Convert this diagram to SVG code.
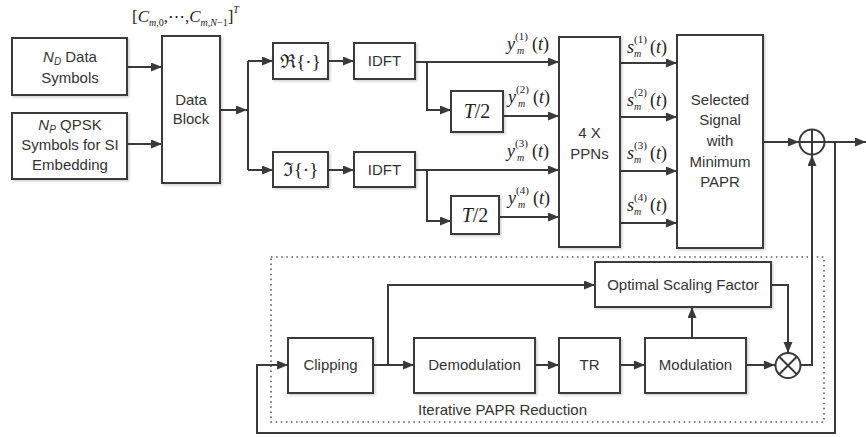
<svg xmlns="http://www.w3.org/2000/svg" width="866" height="437" viewBox="0 0 866 437">
<defs>
<marker id="ah" markerWidth="12" markerHeight="10" refX="11" refY="4.5" orient="auto" markerUnits="userSpaceOnUse">
<path d="M0,0 L11,4.5 L0,9 z" fill="#3a3a3a"/>
</marker>
<filter id="sh" x="-10%" y="-10%" width="130%" height="130%">
<feDropShadow dx="1.5" dy="1.5" stdDeviation="1" flood-color="#000" flood-opacity="0.18"/>
</filter>
</defs>
<style>
.box{fill:#fff;stroke:#3a3a3a;stroke-width:2;filter:url(#sh)}
.ln{fill:none;stroke:#3a3a3a;stroke-width:2}
.ar{fill:none;stroke:#3a3a3a;stroke-width:2;marker-end:url(#ah)}
.t{font-family:"Liberation Sans",Arial,sans-serif;font-size:15px;fill:#333;text-anchor:middle}
.m{font-family:"Liberation Serif","DejaVu Serif",serif;fill:#222}
.i{font-style:italic}
</style>
<rect width="866" height="437" fill="#fff"/>

<!-- dotted region -->
<rect x="271" y="257" width="553" height="165" fill="none" stroke="#555" stroke-width="1.6" stroke-dasharray="1.5 3.6"/>
<text x="418" y="415" class="t" style="text-anchor:start">Iterative PAPR Reduction</text>

<g id="connectors">
<path class="ar" d="M127,67 H162"/>
<path class="ar" d="M127,144 H162"/>
<path class="ar" d="M220,110 H247"/>
<path class="ln" d="M248,61 V170"/>
<path class="ar" d="M248,61 H273"/>
<path class="ar" d="M248,170 H273"/>
<path class="ar" d="M328,61 H354"/>
<path class="ar" d="M328,170 H354"/>
<path class="ar" d="M415,62 H559"/>
<path class="ar" d="M427,62 V110 H451"/>
<path class="ar" d="M503,116 H559"/>
<path class="ar" d="M415,170 H559"/>
<path class="ar" d="M427,170 V221 H451"/>
<path class="ar" d="M499,217 H559"/>
<path class="ar" d="M620,63 H677"/>
<path class="ar" d="M620,117 H677"/>
<path class="ar" d="M620,171 H677"/>
<path class="ar" d="M620,223 H677"/>
<path class="ar" d="M763,142 H799"/>
<path class="ar" d="M825,142 H866"/>
<path class="ar" d="M835,142 V433 H257 V365 H288"/>
<path class="ar" d="M373,365 H414"/>
<path class="ar" d="M388,365 V285 H595"/>
<path class="ar" d="M535,365 H559"/>
<path class="ar" d="M620,365 H645"/>
<path class="ar" d="M746,365 H775"/>
<path class="ar" d="M692,338 V307"/>
<path class="ar" d="M771,285 H788 V353"/>
<path class="ar" d="M801,365 H812 V155"/>
</g>

<g id="nd">
<rect class="box" x="12" y="38" width="115" height="57"/>
<text class="t" x="70" y="62"><tspan class="i">N</tspan><tspan class="i" font-size="10" dy="3">D</tspan><tspan dy="-3"> Data</tspan></text>
<text class="t" x="70" y="83">Symbols</text>
</g>
<g id="np">
<rect class="box" x="12" y="113" width="115" height="66"/>
<text class="t" x="70" y="130"><tspan class="i">N</tspan><tspan class="i" font-size="10" dy="3">P</tspan><tspan dy="-3"> QPSK</tspan></text>
<text class="t" x="70" y="150">Symbols for SI</text>
<text class="t" x="70" y="170">Embedding</text>
</g>
<g id="datablock">
<rect class="box" x="162" y="36" width="58" height="147"/>
<text class="t" x="191" y="105">Data</text>
<text class="t" x="191" y="124">Block</text>
</g>
<text class="m" x="132" y="22" font-size="17">[<tspan class="i">C</tspan><tspan font-size="10" dy="4"><tspan class="i">m</tspan>,0</tspan><tspan dy="-4">,⋯,</tspan><tspan class="i">C</tspan><tspan font-size="10" dy="4"><tspan class="i">m</tspan>,<tspan class="i">N</tspan>−1</tspan><tspan dy="-4">]</tspan><tspan class="i" font-size="10" dy="-9">T</tspan></text>

<g id="re">
<rect class="box" x="273" y="43" width="55" height="36"/>
<text class="m" x="300.5" y="68" font-size="19" text-anchor="middle">ℜ{·}</text>
</g>
<g id="im">
<rect class="box" x="273" y="152" width="55" height="35"/>
<text class="m" x="300.5" y="176" font-size="19" text-anchor="middle">ℑ{·}</text>
</g>
<g id="idft1">
<rect class="box" x="354" y="43" width="61" height="36"/>
<text class="t" x="384.5" y="66">IDFT</text>
</g>
<g id="idft2">
<rect class="box" x="354" y="152" width="61" height="35"/>
<text class="t" x="384.5" y="175">IDFT</text>
</g>
<g id="t2a">
<rect class="box" x="451" y="91" width="52" height="41"/>
<text class="m" x="477" y="118" font-size="20" text-anchor="middle"><tspan class="i">T</tspan>/2</text>
</g>
<g id="t2b">
<rect class="box" x="451" y="196" width="48" height="38"/>
<text class="m" x="475" y="222" font-size="20" text-anchor="middle"><tspan class="i">T</tspan>/2</text>
</g>

<!-- y labels -->
<g class="m">
<text x="507" y="50" font-size="18" class="i">y</text><text x="515" y="40" font-size="11">(1)</text><text x="517" y="54" font-size="10" class="i">m</text><text x="532" y="50" font-size="18">(<tspan class="i">t</tspan>)</text>
<text x="508" y="103" font-size="18" class="i">y</text><text x="516" y="93" font-size="11">(2)</text><text x="518" y="107" font-size="10" class="i">m</text><text x="533" y="103" font-size="18">(<tspan class="i">t</tspan>)</text>
<text x="507" y="157" font-size="18" class="i">y</text><text x="515" y="147" font-size="11">(3)</text><text x="517" y="161" font-size="10" class="i">m</text><text x="532" y="157" font-size="18">(<tspan class="i">t</tspan>)</text>
<text x="508" y="204" font-size="18" class="i">y</text><text x="516" y="194" font-size="11">(4)</text><text x="518" y="208" font-size="10" class="i">m</text><text x="533" y="204" font-size="18">(<tspan class="i">t</tspan>)</text>
</g>

<g id="ppn">
<rect class="box" x="559" y="37" width="61" height="210"/>
<text class="t" x="589.5" y="138">4 X</text>
<text class="t" x="589.5" y="159">PPNs</text>
</g>

<!-- s labels -->
<g class="m">
<text x="627" y="53" font-size="18" class="i">s</text><text x="634" y="43" font-size="11">(1)</text><text x="634" y="57" font-size="10" class="i">m</text><text x="650" y="53" font-size="18">(<tspan class="i">t</tspan>)</text>
<text x="627" y="106" font-size="18" class="i">s</text><text x="634" y="96" font-size="11">(2)</text><text x="634" y="110" font-size="10" class="i">m</text><text x="650" y="106" font-size="18">(<tspan class="i">t</tspan>)</text>
<text x="627" y="159" font-size="18" class="i">s</text><text x="634" y="149" font-size="11">(3)</text><text x="634" y="163" font-size="10" class="i">m</text><text x="650" y="159" font-size="18">(<tspan class="i">t</tspan>)</text>
<text x="627" y="211" font-size="18" class="i">s</text><text x="634" y="201" font-size="11">(4)</text><text x="634" y="215" font-size="10" class="i">m</text><text x="650" y="211" font-size="18">(<tspan class="i">t</tspan>)</text>
</g>

<g id="selected">
<rect class="box" x="677" y="35" width="86" height="213"/>
<text class="t" x="720" y="105">Selected</text>
<text class="t" x="720" y="125">Signal</text>
<text class="t" x="720" y="146">with</text>
<text class="t" x="720" y="167">Minimum</text>
<text class="t" x="720" y="187">PAPR</text>
</g>

<g id="sum">
<circle cx="812" cy="142" r="12.5" fill="#fff" stroke="#3a3a3a" stroke-width="2"/>
<path class="ln" d="M799.5,142 H824.5 M812,129.5 V154.5"/>
</g>

<g id="clipping">
<rect class="box" x="288" y="338" width="85" height="55"/>
<text class="t" x="330.5" y="370">Clipping</text>
</g>
<g id="demod">
<rect class="box" x="414" y="338" width="121" height="55"/>
<text class="t" x="474.5" y="370">Demodulation</text>
</g>
<g id="tr">
<rect class="box" x="559" y="338" width="61" height="55"/>
<text class="t" x="589.5" y="370">TR</text>
</g>
<g id="mod">
<rect class="box" x="645" y="338" width="101" height="55"/>
<text class="t" x="695.5" y="370">Modulation</text>
</g>
<g id="osf">
<rect class="box" x="595" y="262" width="176" height="45"/>
<text class="t" x="683" y="290">Optimal Scaling Factor</text>
</g>
<g id="mult">
<circle cx="788" cy="365.5" r="12.5" fill="#fff" stroke="#3a3a3a" stroke-width="2"/>
<path class="ln" d="M779.2,356.7 L796.8,374.3 M796.8,356.7 L779.2,374.3"/>
</g>
</svg>
